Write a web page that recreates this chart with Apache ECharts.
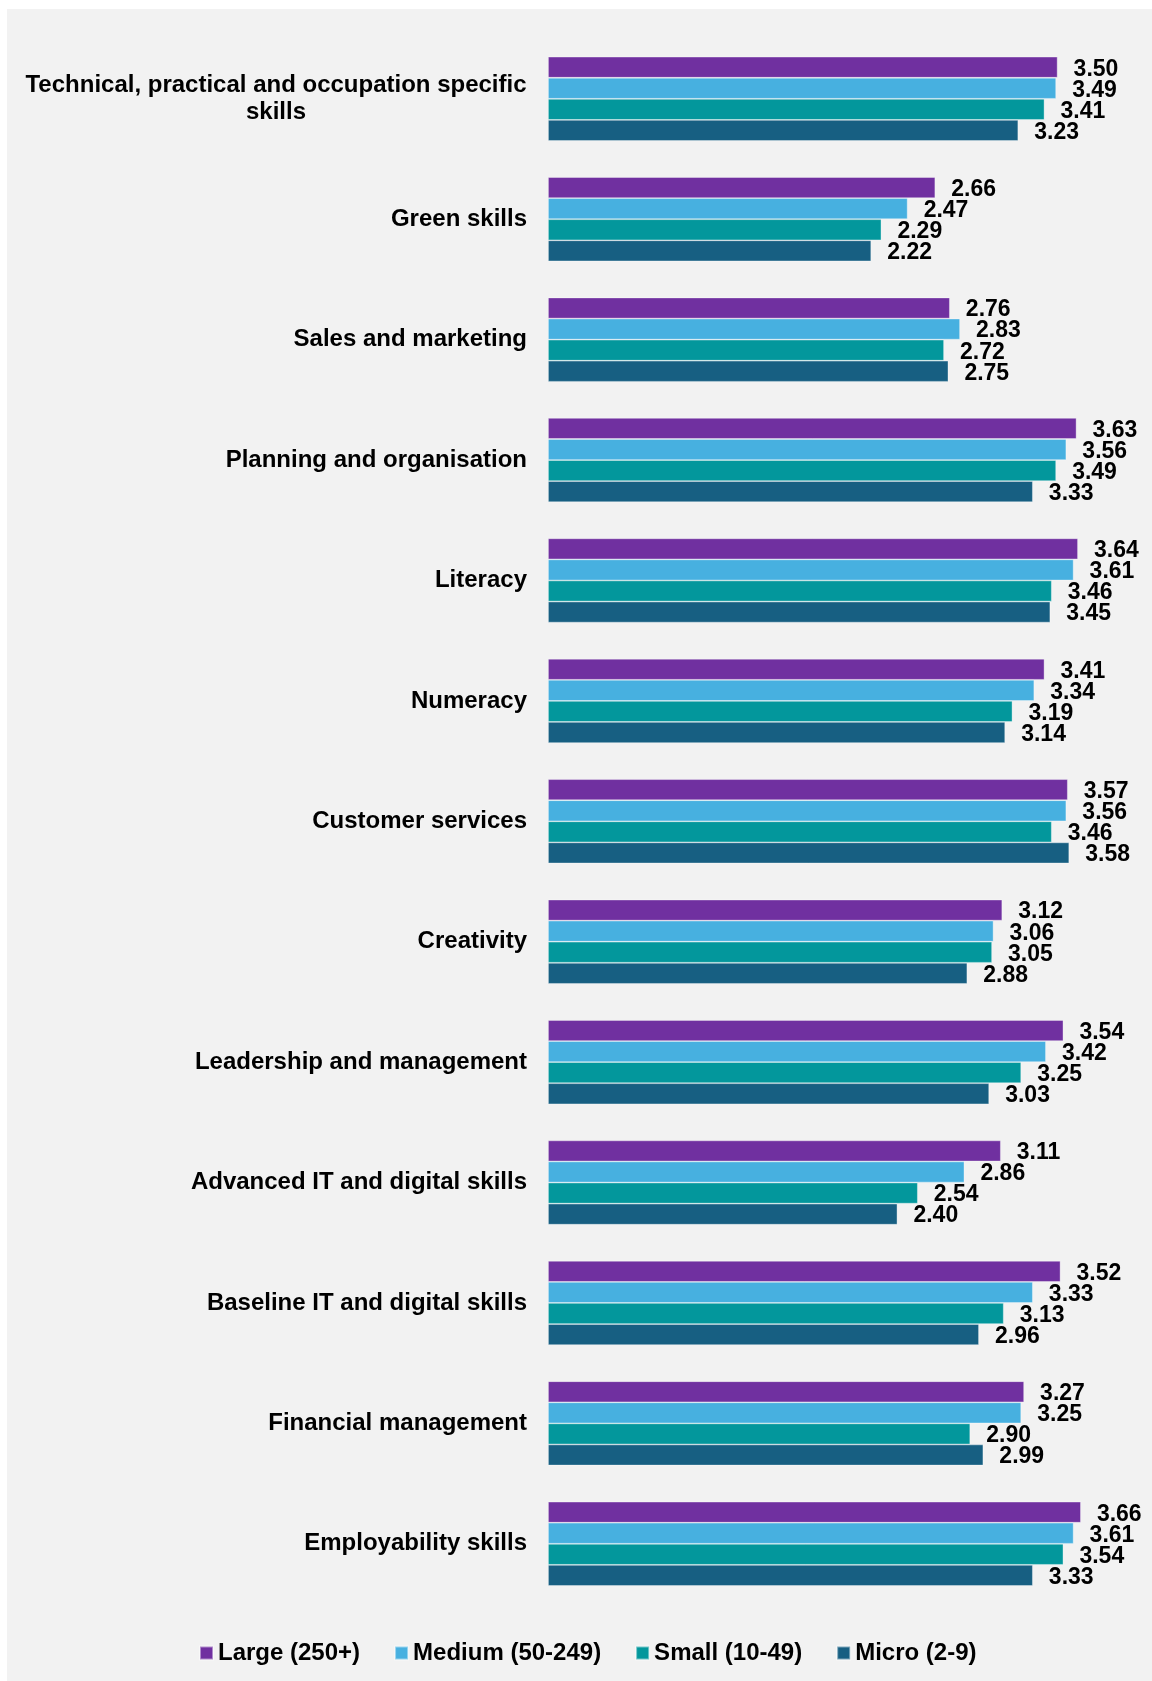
<!DOCTYPE html>
<html>
<head>
<meta charset="utf-8">
<script src="https://cdn.jsdelivr.net/npm/echarts@6/dist/echarts.min.js"></script>
<style>
  html, body { margin: 0; padding: 0; background: #ffffff; }
  #chart { width: 1152px; height: 1681px; }
</style>
</head>
<body>
<div id="chart"></div>
<script>
// Skill areas, listed top to bottom
const categories = [
  'Technical, practical and occupation specific skills',
  'Green skills',
  'Sales and marketing',
  'Planning and organisation',
  'Literacy',
  'Numeracy',
  'Customer services',
  'Creativity',
  'Leadership and management',
  'Advanced IT and digital skills',
  'Baseline IT and digital skills',
  'Financial management',
  'Employability skills'
];

// Average scores by establishment size
const large  = [3.50, 2.66, 2.76, 3.63, 3.64, 3.41, 3.57, 3.12, 3.54, 3.11, 3.52, 3.27, 3.66];
const medium = [3.49, 2.47, 2.83, 3.56, 3.61, 3.34, 3.56, 3.06, 3.42, 2.86, 3.33, 3.25, 3.61];
const small  = [3.41, 2.29, 2.72, 3.49, 3.46, 3.19, 3.46, 3.05, 3.25, 2.54, 3.13, 2.90, 3.54];
const micro  = [3.23, 2.22, 2.75, 3.33, 3.45, 3.14, 3.58, 2.88, 3.03, 2.40, 2.96, 2.99, 3.33];

const seriesNames = ['Large (250+)', 'Medium (50-249)', 'Small (10-49)', 'Micro (2-9)'];
const seriesColors = ['#7030a0', '#47b0e0', '#03979c', '#175f82'];
const seriesData = [large, medium, small, micro];

const FONT = '"Liberation Sans", Arial, sans-serif';

const chart = echarts.init(document.getElementById('chart'), null, { renderer: 'canvas' });

const option = {
  backgroundColor: '#ffffff',
  animation: false,
  graphic: [{
    type: 'rect',
    z: -10,
    silent: true,
    shape: { x: 7, y: 9, width: 1145, height: 1672 },
    style: { fill: '#f2f2f2' }
  }],
  legend: {
    left: 194,
    top: 1636,
    itemWidth: 13,
    itemHeight: 13,
    itemGap: 34,
    icon: 'rect',
    textStyle: { fontFamily: FONT, fontSize: 24, fontWeight: 'bold', color: '#000000' },
    data: seriesNames
  },
  grid: {
    left: 548,
    right: 21.6,
    top: 38.6,
    bottom: 77,
    containLabel: false
  },
  xAxis: {
    type: 'value',
    min: 0,
    max: 4,
    show: false
  },
  yAxis: {
    type: 'category',
    data: categories,
    inverse: true,
    axisLine: { show: false },
    axisTick: { show: false },
    splitLine: { show: false },
    axisLabel: {
      margin: 21,
      fontFamily: FONT,
      fontSize: 24,
      fontWeight: 'bold',
      color: '#000000',
      lineHeight: 27,
      formatter: function (v) {
        if (v.indexOf('occupation specific') >= 0) {
          return '{c|Technical, practical and occupation specific}\n{c|skills}';
        }
        return v;
      },
      rich: {
        c: {
          width: 502,
          align: 'center',
          fontFamily: FONT,
          fontSize: 24,
          fontWeight: 'bold',
          color: '#000000',
          lineHeight: 27
        }
      }
    }
  },
  series: seriesNames.map(function (name, i) {
    return {
      name: name,
      type: 'bar',
      data: seriesData[i],
      barGap: '0%',
      barCategoryGap: '30%',
      itemStyle: {
        color: seriesColors[i],
        borderColor: 'rgba(255,255,255,0.45)',
        borderWidth: 0.8
      },
      label: {
        show: true,
        position: 'right',
        distance: 16,
        offset: [0, 2],
        fontFamily: FONT,
        fontSize: 23,
        fontWeight: 'bold',
        color: '#000000',
        formatter: function (p) { return p.value.toFixed(2); }
      }
    };
  })
};

chart.setOption(option);
</script>
</body>
</html>
